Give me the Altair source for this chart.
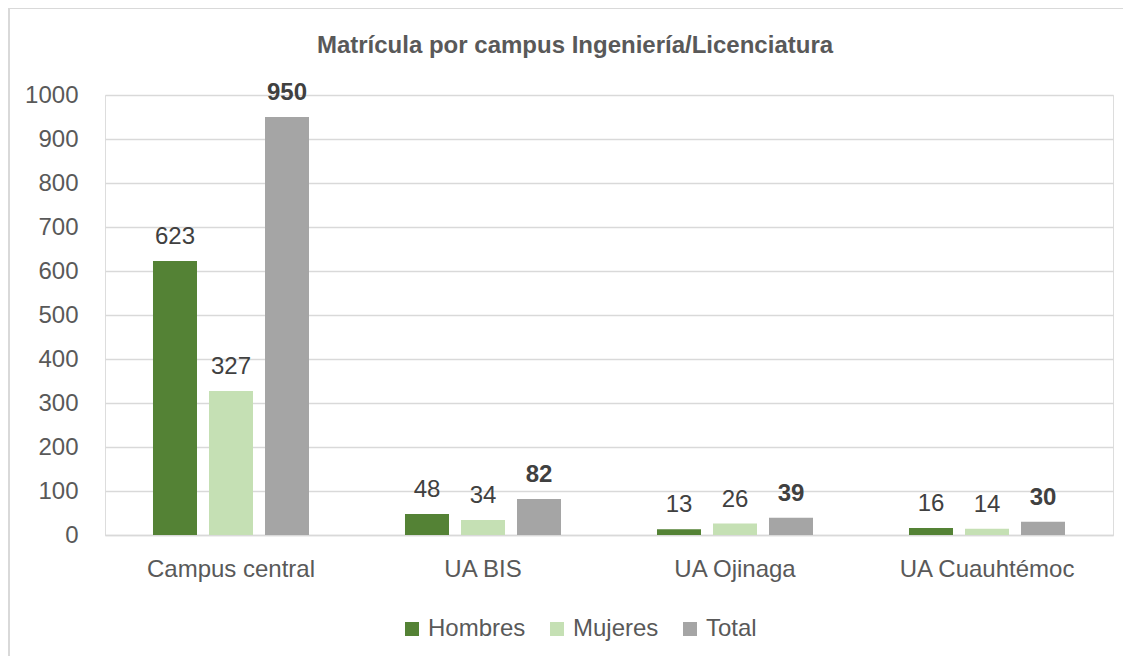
import altair as alt
import pandas as pd

campuses = ["Campus central", "UA BIS", "UA Ojinaga", "UA Cuauhtémoc"]
series = ["Hombres", "Mujeres", "Total"]
hombres = [623, 48, 13, 16]
mujeres = [327, 34, 26, 14]
total = [950, 82, 39, 30]
colors = ["#548235", "#C5E0B4", "#A5A5A5"]
y_ticks = [0, 100, 200, 300, 400, 500, 600, 700, 800, 900, 1000]
title_text = "Matrícula por campus Ingeniería/Licenciatura"

rows = []
for i, c in enumerate(campuses):
    for s, vals in zip(series, [hombres, mujeres, total]):
        rows.append({"campus": c, "serie": s, "valor": vals[i]})
df = pd.DataFrame(rows)

FONT = "Liberation Sans, Arial, sans-serif"
FS = 24
W, H = 1008, 440

x_enc = alt.X("campus:N", sort=campuses,
              scale=alt.Scale(paddingInner=0, paddingOuter=0),
              axis=alt.Axis(title=None, labelAngle=0, ticks=False, domain=True,
                            domainColor="#D9D9D9", domainWidth=1.5,
                            labelFontSize=FS, labelColor="#595959", labelFont=FONT,
                            labelPadding=22, labelLimit=0))
xo_enc = alt.XOffset("serie:N", sort=series,
                     scale=alt.Scale(paddingInner=0.2143, paddingOuter=0.857))
y_enc = alt.Y("valor:Q",
              scale=alt.Scale(domain=[0, 1000], nice=False),
              axis=alt.Axis(title=None, values=y_ticks, ticks=False, domain=False,
                            format="d", grid=True, gridColor="#D9D9D9", gridWidth=1.5,
                            labelFontSize=FS, labelColor="#595959", labelFont=FONT,
                            labelPadding=27))

base = alt.Chart(df).encode(x=x_enc, xOffset=xo_enc, y=y_enc)

bars = base.mark_bar().encode(
    color=alt.Color("serie:N", sort=series,
                    scale=alt.Scale(domain=series, range=colors),
                    legend=alt.Legend(title=None, orient="none", direction="horizontal",
                                      legendX=295, legendY=522,
                                      symbolType="square", symbolSize=196,
                                      symbolStrokeWidth=0,
                                      labelFontSize=FS, labelColor="#595959",
                                      labelFont=FONT, labelOffset=4,
                                      columnPadding=19))
)

labels = base.transform_filter(alt.datum.serie != "Total").mark_text(
    baseline="alphabetic", dy=-17, fontSize=FS, font=FONT, color="#404040"
).encode(text="valor:Q")

labels_total = base.transform_filter(alt.datum.serie == "Total").mark_text(
    baseline="alphabetic", dy=-17, fontSize=FS, font=FONT, fontWeight="bold",
    color="#404040"
).encode(text="valor:Q")

frame = alt.Chart(pd.DataFrame({"f": [0]})).mark_rect(
    fill="transparent", stroke="#D9D9D9", strokeWidth=2
).encode(x=alt.value(-96), x2=alt.value(1040), y=alt.value(-87), y2=alt.value(600))

title = alt.Chart(pd.DataFrame({"t": [title_text]})).mark_text(
    fontSize=24, font=FONT, fontWeight="bold", color="#595959",
    align="center", baseline="alphabetic"
).encode(text="t:N", x=alt.value(470), y=alt.value(-42))

chart = alt.layer(frame, bars, labels, labels_total, title).properties(
    width=W, height=H,
    autosize=alt.AutoSizeParams(type="none"),
    padding={"left": 97, "top": 87, "right": 10, "bottom": 121},
).configure_view(strokeWidth=0, stroke="transparent").configure(background="white")

chart.save("out.html", embed_options={"renderer": "svg", "actions": False})
